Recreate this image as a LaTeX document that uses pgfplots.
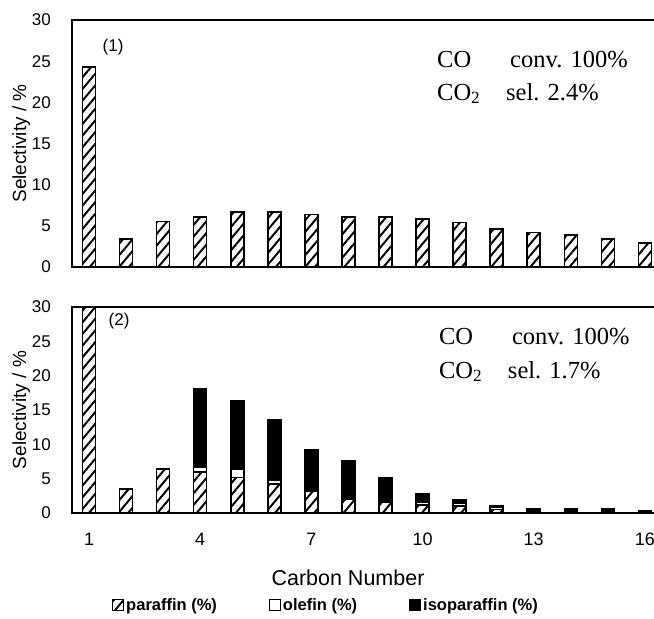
\documentclass[border=0pt]{standalone}
\usepackage{fontspec}
\setmainfont{Liberation Sans}
\newfontfamily\serif{Liberation Serif}
\usepackage{pgfplots}
\pgfplotsset{compat=1.18}
\usetikzlibrary{patterns.meta}

\tikzset{
  hatch/.style={draw=black, line width=1.5pt,
    pattern={Lines[angle=50, distance=7.5pt, line width=2pt]}},
  note/.style={font=\serif\fontsize{24.5}{28}\selectfont, anchor=base west, inner sep=0pt},
}
\pgfplotsset{
  panel/.style={
    scale only axis,
    width=584pt,
    xmin=0.54, xmax=16.30,
    ymin=0, ymax=30,
    ytick={0,5,...,30},
    major tick length=0pt,
    axis line style={line width=1.2pt},
    tick label style={inner sep=0pt},
    /pgf/number format/assume math mode=true,
    yticklabel style={font=\fontsize{17}{20}\selectfont, xshift=-21pt},
    every axis y label/.style={at={(axis description cs:-0.087,0.5)}, rotate=90, anchor=center},
    ylabel={Selectivity / \%},
    ylabel style={font=\fontsize{19}{22}\selectfont},
    bar width=13pt,
  },
}

\begin{document}
\begin{tikzpicture}
\useasboundingbox (0,0) rectangle (654pt,619pt);

% (1)
\begin{axis}[panel, height=247pt, at={(72pt,352pt)}, anchor=south west,
  xtick=\empty, ybar]
  \addplot[hatch] coordinates {
    (1,24.3) (2,3.4) (3,5.5) (4,6.1) (5,6.7) (6,6.7) (7,6.4) (8,6.1)
    (9,6.1) (10,5.8) (11,5.4) (12,4.6) (13,4.2) (14,3.9) (15,3.4) (16,2.9)
  };
  \node[font=\fontsize{17}{20}\selectfont] at (axis cs:1.65,26.7) {(1)};
  \node[note] at (axis cs:10.39,24.17) {CO};
  \node[note] at (axis cs:12.36,24.17) {conv. 100\%};
  \node[note] at (axis cs:10.39,20.28) {CO\textsubscript{2}};
  \node[note] at (axis cs:12.25,20.28) {sel. 2.4\%};
\end{axis}

% (2)
\begin{axis}[panel, height=206pt, at={(72pt,106pt)}, anchor=south west,
  ybar stacked,
  xtick={1,4,7,10,13,16},
  xticklabel style={font=\fontsize{18}{21}\selectfont, yshift=-20pt},
  legend columns=3,
  legend style={at={(axis description cs:0.435,-0.447)}, anchor=center,
    draw=none, fill=none, font=\fontsize{16.5}{19}\selectfont\bfseries,
    /tikz/every even column/.append style={column sep=50pt}},
  legend image code/.code={\draw[#1, line width=1pt] (0pt,-5.5pt) rectangle (11pt,5.5pt);},
]
  \addplot[hatch] coordinates {
    (1,32) (2,3.5) (3,6.4) (4,6.0) (5,5.2) (6,4.2) (7,3.1) (8,2.0)
    (9,1.5) (10,1.2) (11,1.0) (12,0.5) (13,0.3) (14,0.3) (15,0.3) (16,0.1)
  };
  \addlegendentry{paraffin (\%)}
  \addplot[draw=black, line width=1.5pt, fill=white] coordinates {
    (1,0) (2,0) (3,0) (4,0.7) (5,1.1) (6,0.6) (7,0.2) (8,0.2)
    (9,0.2) (10,0.3) (11,0.4) (12,0.4) (13,0.2) (14,0.2) (15,0.2) (16,0.1)
  };
  \addlegendentry{olefin (\%)}
  \addplot[draw=black, line width=1.5pt, fill=black] coordinates {
    (1,0) (2,0) (3,0) (4,11.4) (5,10.1) (6,8.8) (7,5.9) (8,5.4)
    (9,3.5) (10,1.3) (11,0.5) (12,0.2) (13,0.1) (14,0.1) (15,0.1) (16,0.1)
  };
  \addlegendentry{isoparaffin (\%)}
  \node[font=\fontsize{17}{20}\selectfont] at (axis cs:1.81,27.96) {(2)};
  \node[note] at (axis cs:10.44,24.47) {CO};
  \node[note] at (axis cs:12.41,24.47) {conv. 100\%};
  \node[note] at (axis cs:10.44,19.66) {CO\textsubscript{2}};
  \node[note] at (axis cs:12.30,19.66) {sel. 1.7\%};
\end{axis}

\node[font=\fontsize{21.5}{25}\selectfont] at (348pt,41pt) {Carbon Number};
\end{tikzpicture}
\end{document}
